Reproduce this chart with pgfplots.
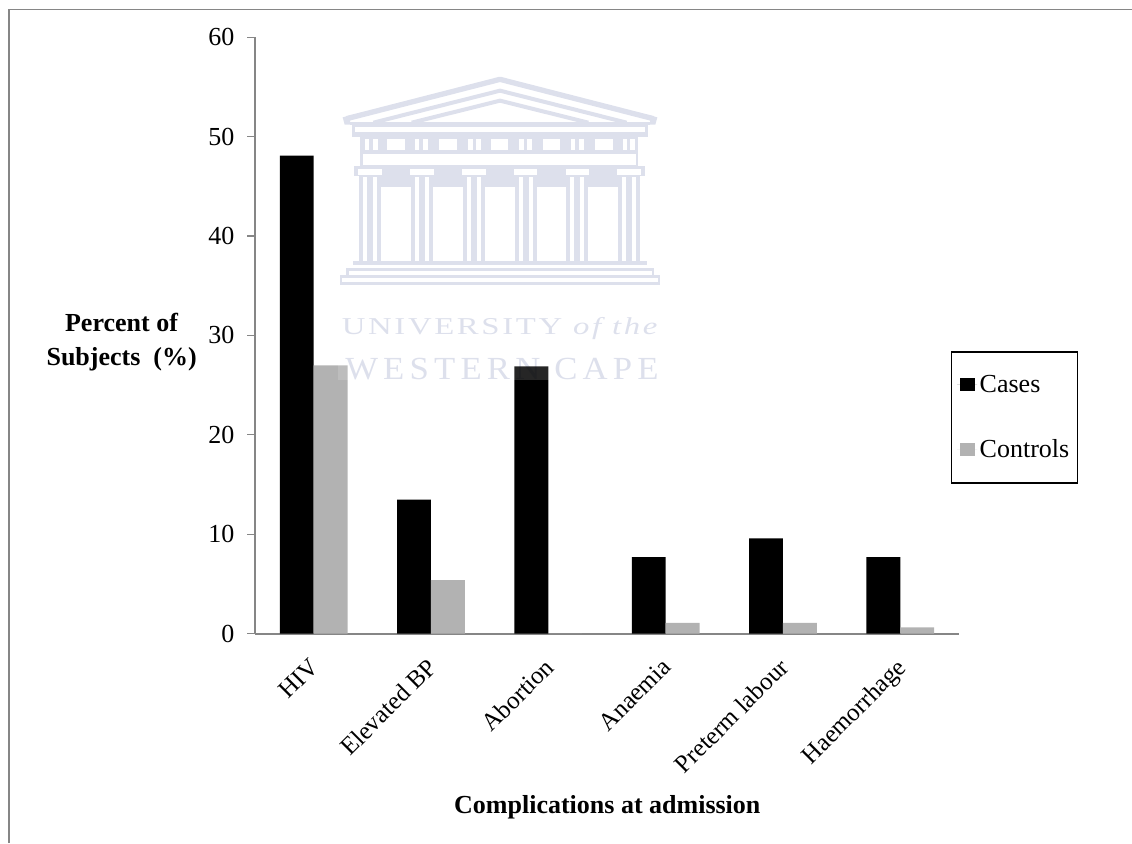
\documentclass[border=0pt]{standalone}
\usepackage{pgfplots}
\usepackage{fontspec}
\setmainfont{Liberation Serif}
\pgfplotsset{compat=1.18}
\definecolor{axisgrey}{HTML}{868686}
\definecolor{ctrlgrey}{HTML}{B2B2B2}
\definecolor{crest}{HTML}{DDE0EC}
\newcommand{\bodyfont}{\fontsize{19.5}{25.5}\selectfont}
\begin{document}
\begin{tikzpicture}
\path[use as bounding box] (0,0) rectangle (849pt,-632.25pt);
% outer frame of the chart area, open at the bottom and on the right
\draw[axisgrey,line width=1.1pt] (6.8pt,-632.25pt) -- (6.8pt,-7.2pt) -- (849pt,-7.2pt);
\begin{axis}[
  at={(191.25pt,-475.3pt)}, anchor=south west,
  scale only axis, width=528pt, height=447.4pt,
  xmin=-0.5, xmax=5.5, ymin=0, ymax=60,
  axis x line=bottom, axis y line=left,
  axis line style={-,axisgrey,line width=1.3pt},
  xtick=data,
  xticklabels={HIV,Elevated BP,Abortion,Anaemia,Preterm labour,Haemorrhage},
  ytick={0,10,...,60},
  xtick style={draw=none},
  ytick style={axisgrey,line width=0.9pt},
  major tick length=6pt,
  tick align=outside,
  /pgf/number format/assume math mode=true,
  yticklabel style={font=\bodyfont,black,xshift=-6pt},
  xticklabel style={font=\fontsize{18.7}{22}\selectfont,black,rotate=45,anchor=north east,yshift=-1.83pt,xshift=-7.26pt},
  xlabel={\textbf{Complications at admission}},
  xlabel style={font=\bodyfont,at={(rel axis cs:0.5,0)},anchor=center,yshift=-130pt,xshift=0.25pt},
  ylabel={\textbf{Percent of}\\\textbf{Subjects\ \ (\%)}},
  ylabel style={font=\bodyfont,rotate=-90,align=center,at={(rel axis cs:0,0.5)},anchor=center,xshift=-100pt,yshift=-5pt},
  ybar, bar width=25.4pt,
  clip=false,
  legend style={
    at={(rel axis cs:0,0)},anchor=north west,
    xshift=522pt,yshift=212pt,
    draw=black,line width=1.1pt,
    font=\bodyfont,
    row sep=30pt,
    inner xsep=4pt, inner ysep=15.5pt,
    legend cell align=left},
  legend image code/.code={
    \fill[#1] (2.2pt,-5pt) rectangle (13.2pt,5pt);
    \path (0pt,0pt) -- (15pt,0pt);},
]
\addplot[fill=black,draw=none,bar shift=-12.7pt] coordinates
  {(0,48.1) (1,13.5) (2,26.9) (3,7.7) (4,9.6) (5,7.7)};
\addplot[fill=ctrlgrey,draw=none,bar shift=12.7pt] coordinates
  {(0,27.0) (1,5.4) (2,0) (3,1.1) (4,1.1) (5,0.65)};
\legend{Cases,Controls}
\end{axis}
% university crest laid over the chart
\begin{scope}[shift={(247.5pt,-45pt)},x=0.25pt,y=-0.25pt]
\fill[white,opacity=0.15] (25,870) rectangle (1000,960);
\begin{scope}[crest]
% pediment
\draw[line width=4pt,line join=round] (50,176) -- (510,58) -- (970,176);
\draw[line width=3pt] (130,188) -- (510,92) -- (890,188);
\draw[line width=3pt] (245,188) -- (510,122) -- (775,188);
\fill (60,186) rectangle (960,194);
\fill (38,172) -- (60,166) -- (60,194) -- (44,194) -- cycle;
\fill (982,172) -- (960,166) -- (960,194) -- (976,194) -- cycle;
% entablature and frieze
\fill (65,196) rectangle (955,232);
\fill[white] (75,200) rectangle (945,216);
\fill (90,232) rectangle (925,318);
\fill[white] (100,282) rectangle (918,314);
\foreach \a/\b in {105/118,130/145,172/225,255/268,280/295,327/382,415/428,438/452,482/535,568/582,592/607,638/690,722/735,748/762,795/848,878/890,900/915}
  \fill[white] (\a,236) rectangle (\b,270);
% capitals and columns
\fill (72,318) rectangle (945,348);
\fill (150,345) rectangle (870,382);
\foreach \c in {120,276,432,587,742,897}{
  \fill[white] (\c-35,328) rectangle (\c+35,345);
  \fill (\c-33,345) rectangle (\c+33,606);
  \fill[white] (\c-21,350) rectangle (\c-9,604);
  \fill[white] (\c+9,350) rectangle (\c+21,604);
}
% steps
\fill (70,604) rectangle (950,614);
\fill (50,625) rectangle (970,633);
\fill (30,645) rectangle (990,653);
\fill (30,666) rectangle (990,674);
\fill (48,625) rectangle (56,650);
\fill (965,625) rectangle (972,650);
\fill (30,645) rectangle (37,674);
\fill (983,645) rectangle (990,674);
\end{scope}
\begin{scope}[blend mode=multiply]
\node[anchor=base west,inner sep=0pt,text=crest] at (35,824)
  {\resizebox{238.5pt}{12.8pt}{\fontsize{18}{20}\selectfont\addfontfeature{LetterSpace=8}UNIVERSITY \textit{of the}}};
\node[anchor=base west,inner sep=0pt,text=crest] at (45,958)
  {\resizebox{235pt}{16pt}{\fontsize{18}{20}\selectfont\addfontfeature{LetterSpace=15}WESTERN CAPE}};
\end{scope}
\end{scope}
\end{tikzpicture}
\end{document}
